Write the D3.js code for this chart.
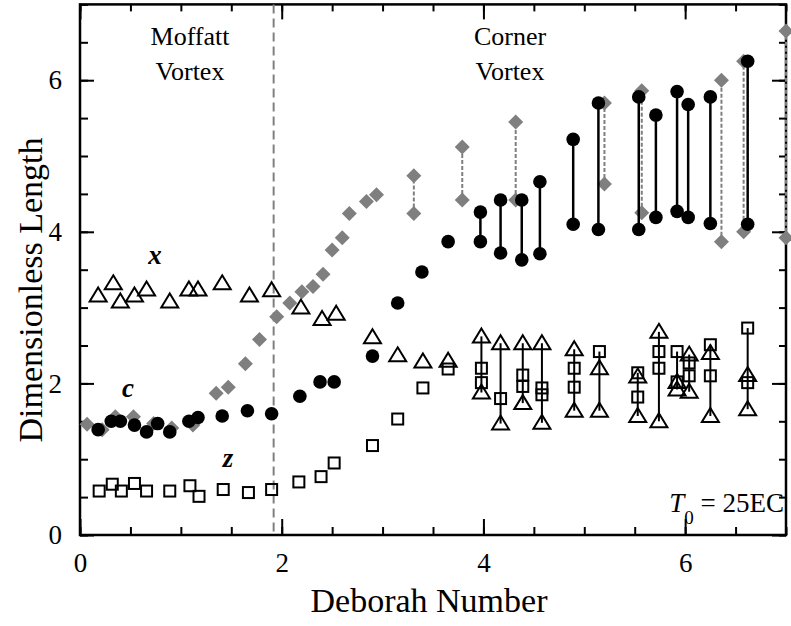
<!DOCTYPE html>
<html>
<head>
<meta charset="utf-8">
<script src="https://cdn.jsdelivr.net/npm/d3@7"></script>
<style>
  body { margin: 0; background: #fff; }
  text { font-family: 'Liberation Serif', 'Times New Roman', serif; fill: #000; }
</style>
</head>
<body>
<script>
// DATA: [Deborah number, length]
var diamondPts = [[0.07, 1.46], [0.22, 1.39], [0.35, 1.56], [0.53, 1.56], [0.73, 1.47], [0.91, 1.41], [1.12, 1.45],
  [1.35, 1.87], [1.47, 1.95], [1.64, 2.26], [1.78, 2.58], [1.95, 2.88], [2.08, 3.06], [2.20, 3.21], [2.31, 3.28],
  [2.41, 3.44], [2.50, 3.76], [2.60, 3.92], [2.67, 4.24], [2.84, 4.40], [2.94, 4.49]]
// [De, low, high]
var diamondPairs = [[3.31, 4.24, 4.74], [3.79, 4.42, 5.12], [4.32, 4.42, 5.45], [5.20, 4.63, 5.70],
  [5.57, 4.25, 5.86], [6.36, 3.87, 6.00], [6.58, 4.00, 6.25], [7.00, 3.92, 6.65]]

var circlePts = [[0.18, 1.39], [0.31, 1.50], [0.40, 1.50], [0.54, 1.45], [0.66, 1.36], [0.77, 1.47], [0.89, 1.36],
  [1.08, 1.50], [1.17, 1.55], [1.41, 1.57], [1.66, 1.64], [1.90, 1.60], [2.18, 1.83], [2.38, 2.02], [2.52, 2.02],
  [2.90, 2.36], [3.15, 3.06], [3.39, 3.47], [3.65, 3.87]]
var circlePairs = [[3.97, 3.87, 4.26], [4.17, 3.72, 4.42], [4.38, 3.63, 4.42], [4.56, 3.71, 4.66],
  [4.89, 4.10, 5.22], [5.14, 4.03, 5.70], [5.54, 4.03, 5.78], [5.71, 4.19, 5.54], [5.92, 4.27, 5.85],
  [6.03, 4.19, 5.68], [6.25, 4.11, 5.78], [6.62, 4.10, 6.25]]

var trianglePts = [[0.18, 3.16], [0.33, 3.32], [0.40, 3.08], [0.54, 3.16], [0.66, 3.24], [0.89, 3.08], [1.08, 3.24],
  [1.17, 3.24], [1.41, 3.32], [1.68, 3.16], [1.90, 3.23], [2.19, 3.00], [2.40, 2.85], [2.54, 2.92], [2.90, 2.61],
  [3.15, 2.37], [3.40, 2.29], [3.65, 2.30]]
var squarePts = [[0.19, 0.58], [0.32, 0.67], [0.41, 0.58], [0.54, 0.68], [0.66, 0.58], [0.89, 0.58], [1.09, 0.65],
  [1.18, 0.51], [1.42, 0.60], [1.67, 0.56], [1.90, 0.60], [2.17, 0.70], [2.39, 0.77], [2.52, 0.95], [2.90, 1.18],
  [3.15, 1.53], [3.40, 1.94], [3.65, 2.19]]

// GROUPS OF TRIANGLES AND SQUARES JOINED BY A LINE: [De, triangles, squares]
var groupDe = [3.98, 4.17, 4.39, 4.58, 4.90, 5.15, 5.53, 5.74, 5.92, 6.04, 6.25, 6.62]
var groupTri = [[2.62, 1.88], [2.53, 1.47], [2.53, 1.74], [2.53, 1.48], [2.45, 1.64], [2.20, 1.64],
  [2.09, 1.57], [2.68, 1.50], [2.02, 1.92], [2.38, 1.89], [2.40, 1.57], [2.11, 1.66]]
var groupSq = [[2.20, 2.01], [1.80], [2.11, 1.96], [1.94, 1.85], [2.20, 1.95], [2.42],
  [2.14, 1.82], [2.42, 2.20], [2.42, 2.02], [2.27, 2.10], [2.51, 2.10], [2.73, 2.01]]

var xTicks = [0, 2, 4, 6]
var yTicks = [0, 2, 4, 6]
var boundaryDe = 1.92

var w = 791
var h = 626
var margin = { top: 4.4, right: 5, bottom: 91, left: 80 }
var width = w - margin.left - margin.right
var height = h - margin.top - margin.bottom

var svg = d3.select('body')
  .append('svg')
  .attr('width', w)
  .attr('height', h)

var chart = svg.append('g')
  .attr('transform', 'translate(' + margin.left + ',' + margin.top + ')')

var x = d3.scaleLinear().domain([0, 7]).range([0, width])
var y = d3.scaleLinear().domain([0, 7]).range([height, 0])

var minor = d3.range(0, 7.01, 0.5)

// AXES - ticks point inward on all four sides
function addAxis (axisFn, transform, values, size, labels) {
  var g = chart.append('g')
    .attr('transform', transform)
    .call(axisFn.tickValues(values).tickSize(size).tickPadding(18)
      .tickFormat(labels ? d3.format('d') : ''))
  g.select('.domain').remove()
  g.selectAll('line').attr('stroke', '#000').attr('stroke-width', 2)
  g.selectAll('text').style('font-size', '27px').attr('fill', '#000')
  return g
}
addAxis(d3.axisBottom(x), 'translate(0,' + height + ')', minor, -8, false)
addAxis(d3.axisBottom(x), 'translate(0,' + height + ')', xTicks, -16, true)
addAxis(d3.axisTop(x), 'translate(0,0)', minor, -7, false)
addAxis(d3.axisTop(x), 'translate(0,0)', xTicks, -15, false)
addAxis(d3.axisLeft(y), 'translate(0,0)', minor, -8, false)
addAxis(d3.axisLeft(y), 'translate(0,0)', yTicks, -14, true)
addAxis(d3.axisRight(y), 'translate(' + width + ',0)', minor, -7, false)
addAxis(d3.axisRight(y), 'translate(' + width + ',0)', yTicks, -14, false)

chart.append('rect')
  .attr('width', width)
  .attr('height', height)
  .attr('fill', 'none')
  .attr('stroke', '#000')
  .attr('stroke-width', 2.5)

// MOFFATT / CORNER BOUNDARY
chart.append('line')
  .attr('x1', x(boundaryDe)).attr('x2', x(boundaryDe))
  .attr('y1', 0).attr('y2', height)
  .attr('stroke', '#808080')
  .attr('stroke-width', 2)
  .attr('stroke-dasharray', '9,5')

var gray = '#7f7f7f'

// DIAMONDS
chart.selectAll('.dline')
  .data(diamondPairs)
  .enter().append('line')
  .attr('x1', function (d) { return x(d[0]) })
  .attr('x2', function (d) { return x(d[0]) })
  .attr('y1', function (d) { return y(d[1]) })
  .attr('y2', function (d) { return y(d[2]) })
  .attr('stroke', gray)
  .attr('stroke-width', 2)
  .attr('stroke-dasharray', '4,2')

var diamondAll = diamondPts.concat(
  diamondPairs.map(function (d) { return [d[0], d[1]] }),
  diamondPairs.map(function (d) { return [d[0], d[2]] }))

chart.selectAll('.diamond')
  .data(diamondAll)
  .enter().append('path')
  .attr('d', 'M0,-7.5L7.5,0L0,7.5L-7.5,0Z')
  .attr('transform', function (d) { return 'translate(' + x(d[0]) + ',' + y(d[1]) + ')' })
  .attr('fill', gray)

// CIRCLES
chart.selectAll('.cline')
  .data(circlePairs)
  .enter().append('line')
  .attr('x1', function (d) { return x(d[0]) })
  .attr('x2', function (d) { return x(d[0]) })
  .attr('y1', function (d) { return y(d[1]) })
  .attr('y2', function (d) { return y(d[2]) })
  .attr('stroke', '#000')
  .attr('stroke-width', 2.5)

var circleAll = circlePts.concat(
  circlePairs.map(function (d) { return [d[0], d[1]] }),
  circlePairs.map(function (d) { return [d[0], d[2]] }))

chart.selectAll('.circle')
  .data(circleAll)
  .enter().append('circle')
  .attr('cx', function (d) { return x(d[0]) })
  .attr('cy', function (d) { return y(d[1]) })
  .attr('r', 6.8)
  .attr('fill', '#000')

// TRIANGLES AND SQUARES
var triAll = trianglePts.slice()
var sqAll = squarePts.slice()
groupDe.forEach(function (de, i) {
  groupTri[i].forEach(function (v) { triAll.push([de, v]) })
  groupSq[i].forEach(function (v) { sqAll.push([de, v]) })
})

chart.selectAll('.gline')
  .data(groupDe)
  .enter().append('line')
  .attr('x1', function (d) { return x(d) })
  .attr('x2', function (d) { return x(d) })
  .attr('y1', function (d, i) { return y(d3.max(groupTri[i].concat(groupSq[i]))) })
  .attr('y2', function (d, i) { return y(d3.min(groupTri[i].concat(groupSq[i]))) })
  .attr('stroke', '#000')
  .attr('stroke-width', 2)

chart.selectAll('.tri')
  .data(triAll)
  .enter().append('path')
  .attr('d', 'M0,-8L8.5,6L-8.5,6Z')
  .attr('transform', function (d) { return 'translate(' + x(d[0]) + ',' + y(d[1]) + ')' })
  .attr('fill', 'none')
  .attr('stroke', '#000')
  .attr('stroke-width', 2)

chart.selectAll('.sq')
  .data(sqAll)
  .enter().append('rect')
  .attr('x', function (d) { return x(d[0]) - 5.5 })
  .attr('y', function (d) { return y(d[1]) - 5.5 })
  .attr('width', 11)
  .attr('height', 11)
  .attr('fill', 'none')
  .attr('stroke', '#000')
  .attr('stroke-width', 2)

// SERIES LABELS
var seriesLabels = [['x', 155, 264], ['c', 128, 397], ['z', 228, 467]]
svg.selectAll('.slabel')
  .data(seriesLabels)
  .enter().append('text')
  .attr('x', function (d) { return d[1] })
  .attr('y', function (d) { return d[2] })
  .attr('text-anchor', 'middle')
  .style('font-size', '27px')
  .style('font-weight', 'bold')
  .style('font-style', 'italic')
  .text(function (d) { return d[0] })

// REGION LABELS
function region (cx, lines) {
  lines.forEach(function (t, i) {
    svg.append('text')
      .attr('x', cx)
      .attr('y', 45 + i * 35)
      .attr('text-anchor', 'middle')
      .style('font-size', '26px')
      .text(t)
  })
}
region(190, ['Moffatt', 'Vortex'])
region(510, ['Corner', 'Vortex'])

// TEMPERATURE NOTE
var note = svg.append('text')
  .attr('x', 784)
  .attr('y', 512)
  .attr('text-anchor', 'end')
  .style('font-size', '27px')
note.append('tspan').style('font-style', 'italic').text('T')
note.append('tspan').attr('dy', 12).style('font-size', '19px').text('0')
note.append('tspan').attr('dy', -12).text(' = 25EC')

// AXIS TITLES
svg.append('text')
  .attr('x', margin.left + width / 2 - 4)
  .attr('y', 612)
  .attr('text-anchor', 'middle')
  .style('font-size', '34px')
  .text('Deborah Number')

svg.append('text')
  .attr('transform', 'translate(42,290) rotate(-90)')
  .attr('text-anchor', 'middle')
  .style('font-size', '34px')
  .text('Dimensionless Length')
</script>
